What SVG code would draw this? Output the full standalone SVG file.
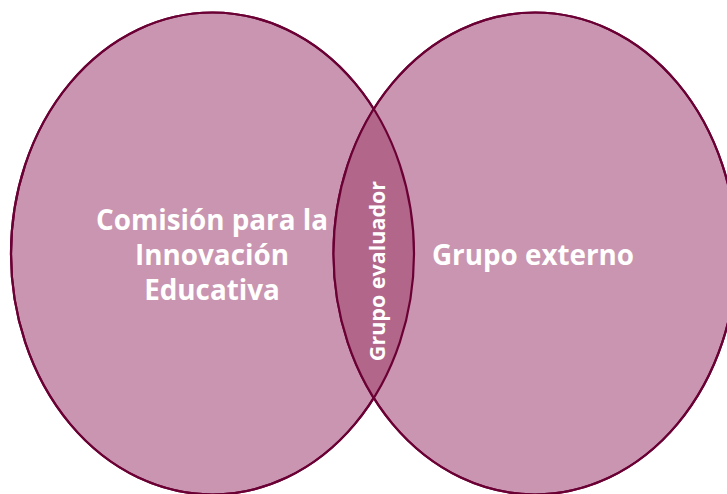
<svg xmlns="http://www.w3.org/2000/svg" width="727" height="494" viewBox="0 0 727 494">
<style>
.set{fill:#C995B0;stroke:#6B0035;stroke-width:2.2}
.lbl{font-family:"Open Sans","Liberation Sans",sans-serif;font-weight:bold;fill:#FFFFFF;text-anchor:middle}
</style>
<defs>
<clipPath id="clipL"><ellipse cx="212.5" cy="253.5" rx="201.5" ry="241"/></clipPath>
</defs>
<g id="left-set"><ellipse class="set" cx="212.5" cy="253.5" rx="201.5" ry="241"/></g>
<g id="right-set"><ellipse class="set" cx="535" cy="253.5" rx="201.5" ry="241"/></g>
<g id="intersection">
<ellipse cx="535" cy="253.5" rx="201.5" ry="241" fill="#B1668A" clip-path="url(#clipL)"/>
<ellipse cx="212.5" cy="253.5" rx="201.5" ry="241" fill="none" stroke="#6B0035" stroke-width="2.2"/>
<ellipse cx="535" cy="253.5" rx="201.5" ry="241" fill="none" stroke="#6B0035" stroke-width="2.2"/>
</g>
<g id="label-left">
<text class="lbl" font-size="27.8" x="212" y="230">Comisión para la</text>
<text class="lbl" font-size="27.8" x="212" y="265">Innovación</text>
<text class="lbl" font-size="27.8" x="212" y="300">Educativa</text>
</g>
<g id="label-right"><text class="lbl" font-size="27.8" x="533" y="265">Grupo externo</text></g>
<g id="label-center"><text class="lbl" font-size="21.5" transform="translate(385,271) rotate(-90)" x="0" y="0">Grupo evaluador</text></g>
</svg>
